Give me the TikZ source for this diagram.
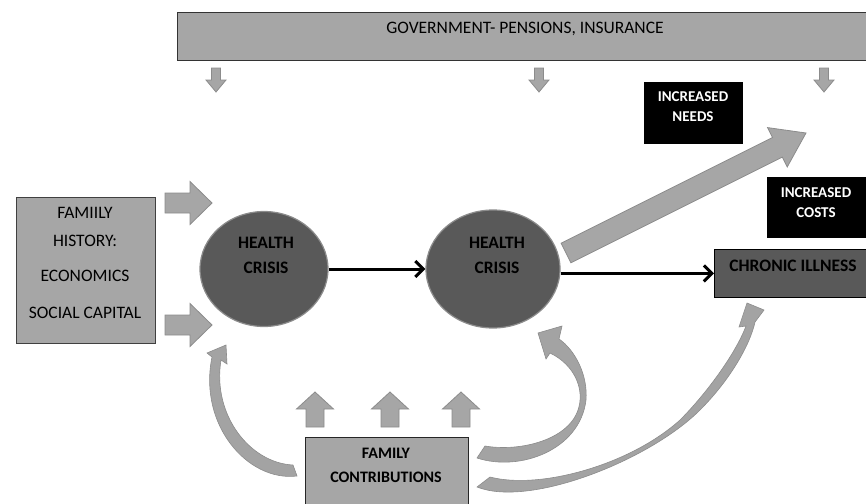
\documentclass[tikz,border=0pt]{standalone}
\usepackage{fontspec}
\setmainfont{Carlito}
\usetikzlibrary{arrows.meta,shapes.geometric}
\definecolor{lgray}{HTML}{A6A6A6}
\definecolor{dgray}{HTML}{595959}
\definecolor{egray}{HTML}{8C8C8C}
\definecolor{agray}{HTML}{A3A3A3}
\begin{document}
\begin{tikzpicture}[x=1pt,y=-1pt,
 graybox/.style={draw=black!80, fill=lgray, line width=0.9pt, inner sep=0pt},
 blackbox/.style={draw=black, fill=black, inner sep=0pt},
 crisis/.style={ellipse, draw=egray, fill=dgray, line width=1.2pt, inner sep=0pt},
 darkbox/.style={draw=black, fill=dgray, line width=0.9pt, inner sep=0pt},
 blockarr/.style={fill=lgray, draw=egray, line width=0.8pt, line join=miter},
 curvarr/.style={fill=agray, draw=egray, line width=0.6pt},
 flow/.style={line width=3pt, -{Straight Barb[length=8pt,width=16pt]}},
 txt/.style={inner sep=0pt, align=center, font=\fontsize{17.5}{25}\selectfont},
 btxt/.style={inner sep=0pt, align=center, font=\fontsize{17.5}{25}\selectfont\bfseries},
 wtxt/.style={inner sep=0pt, align=center, text=white, font=\fontsize{15}{20}\selectfont\bfseries},
]
\useasboundingbox (0,0) rectangle (866,503);
\clip (0,0) rectangle (866,503);

% top government box
\node[graybox, anchor=north west, minimum width=700pt, minimum height=48pt] (gov) at (177,12) {};
\node[txt, anchor=base] (govt) at (525,33.6) {GOVERNMENT- PENSIONS, INSURANCE};

% small down arrows
\foreach \x in {216,539,824}{
  \draw[blockarr] (\x-4.5,68) -- (\x+4.5,68) -- (\x+4.5,80) -- (\x+10,80) -- (\x,92) -- (\x-10,80) -- (\x-4.5,80) -- cycle;
}

% black boxes
\node[blackbox, anchor=north west, minimum width=98pt, minimum height=61pt] (needs) at (644,82) {};
\node[wtxt] (needst) at (693,107) {INCREASED\\NEEDS};
\node[blackbox, anchor=north west, minimum width=110pt, minimum height=60pt] (costs) at (767,177) {};
\node[wtxt] (costst) at (816,203) {INCREASED\\COSTS};

% family history box
\node[graybox, anchor=north west, minimum width=139pt, minimum height=146pt, draw=black!75] (hist) at (16,197) {};
\node[txt, font=\fontsize{17.5}{28}\selectfont] (histt) at (85,263) {FAMIILY\\HISTORY:\\[7pt]ECONOMICS\\[9pt]SOCIAL CAPITAL};

% right block arrows from history
\foreach \y in {203,325}{
  \draw[blockarr] (165,\y-10) -- (190,\y-10) -- (190,\y-21.5) -- (212,\y) -- (190,\y+21.5) -- (190,\y+10) -- (165,\y+10) -- cycle;
}

% health crises
\node[crisis, minimum width=128pt, minimum height=115pt] (e1) at (264,269) {};
\node[btxt] (e1t) at (266,255.5) {HEALTH\\CRISIS};
\node[crisis, minimum width=134pt, minimum height=118pt] (e2) at (493,269) {};
\node[btxt] (e2t) at (497,255.5) {HEALTH\\CRISIS};

% chronic illness
\node[darkbox, anchor=north west, minimum width=160pt, minimum height=48pt] (chron) at (714,249) {};
\node[btxt, anchor=base] (chront) at (793,271.6) {CHRONIC ILLNESS};

% big diagonal arrow
\draw[blockarr] (570.9,262.8) -- (561.1,243.2) -- (772.5,137.5) -- (767.6,127.6) -- (806,133) -- (787.2,167.0) -- (782.3,157.1) -- cycle;

% black flow arrows
\draw[flow] (e1.east) -- (e2.west);
\draw[flow] (e2.east |- chron.west) -- (chron.west);

% family contributions
\node[graybox, anchor=north west, minimum width=163pt, minimum height=80pt, draw=black!85] (contrib) at (305,437) {};
\node[btxt, font=\fontsize{16}{24}\selectfont\bfseries] (contribt) at (386,465) {FAMILY\\CONTRIBUTIONS};

% up arrows
\foreach \x in {315,390,461}{
  \draw[blockarr] (\x-9,427) -- (\x-9,409) -- (\x-18.5,409) -- (\x,392) -- (\x+18.5,409) -- (\x+9,409) -- (\x+9,427) -- cycle;
}

% curved arrows
\draw[curvarr] (297,476) .. controls (248,482) and (198,425) .. (212,357) -- (207,353) -- (226,345) -- (227,364) -- (221,360) .. controls (212,415) and (250,463) .. (293,465) -- cycle;

\draw[curvarr] (477,458) .. controls (520,472) and (580,450) .. (586,400) .. controls (588,375) and (575,350) .. (559,339) -- (562,326) -- (538,333) -- (546,359) -- (550,353) .. controls (575,365) and (585,390) .. (578,410) .. controls (568,440) and (520,452) .. (485,446) -- cycle;

\draw[curvarr] (477,487) .. controls (530,508) and (650,460) .. (700,410) .. controls (730,380) and (750,345) .. (755,322) -- (764,310) -- (747,303) -- (739,327) -- (746,326) .. controls (735,355) and (705,395) .. (680,420) .. controls (630,465) and (540,490) .. (490,477) -- cycle;
\end{tikzpicture}
\end{document}
